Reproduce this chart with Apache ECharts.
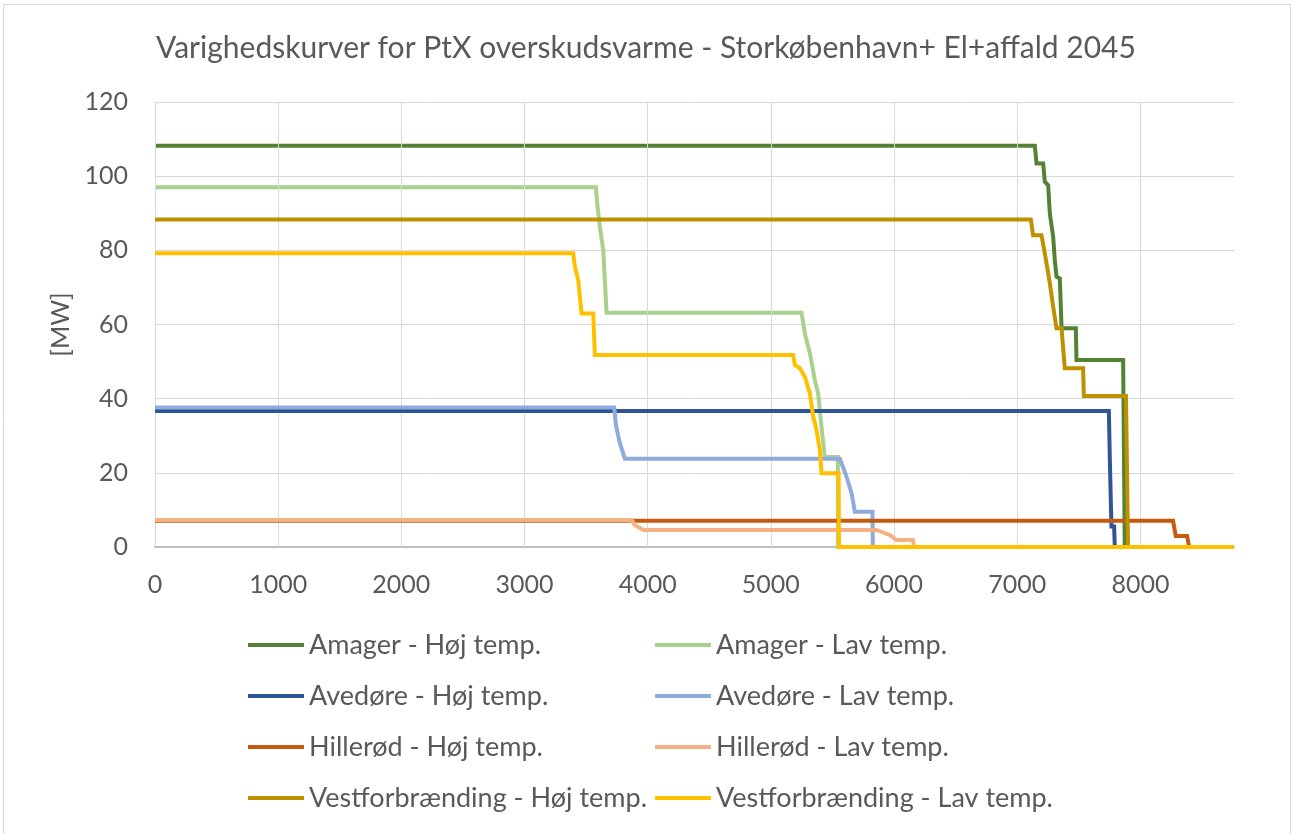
<!DOCTYPE html>
<html>
<head>
<meta charset="utf-8">
<script src="https://cdn.jsdelivr.net/npm/echarts@6/dist/echarts.min.js"></script>
<style>
  html, body { margin: 0; padding: 0; background: #fff; }
  #chart { width: 1292px; height: 834px; }
</style>
</head>
<body>
<div id="chart"></div>
<script>
// Duration curves: [hours, MW] breakpoints for each plant / temperature level
const amagerHoj = [[0,108.2],[7143,108.2],[7157,103.4],[7211,103.4],[7224,98.5],[7251,97.6],[7265,89.9],[7292,83.6],[7305,77.4],[7319,72.9],[7346,72.4],[7360,59.0],[7476,59.0],[7481,50.4],[7860,50.4],[7873,0],[8760,0]];
const amagerLav = [[0,97.0],[3580,97.0],[3590,92.6],[3612,86.3],[3639,80.1],[3666,63.2],[5249,63.2],[5276,57.6],[5317,52.2],[5357,45.0],[5384,41.4],[5411,32.4],[5438,24.3],[5543,24.3],[5546,0],[8760,0]];
const avedoreHoj = [[0,36.7],[7744,36.7],[7752,23.5],[7765,5.5],[7787,5.5],[7792,0],[8760,0]];
const avedoreLav = [[0,37.6],[3728,37.6],[3742,32.9],[3774,28.0],[3815,23.8],[5560,23.8],[5614,19.0],[5628,18.6],[5655,14.5],[5682,9.5],[5825,9.5],[5828,0],[8760,0]];
const hillerodHoj = [[0,7.1],[8265,7.1],[8287,3.0],[8379,3.0],[8396,0],[8760,0]];
const hillerodLav = [[0,7.3],[3869,7.3],[3896,5.9],[3964,4.6],[5857,4.6],[5966,3.2],[6020,1.9],[6155,1.9],[6160,0],[8760,0]];
const vestHoj = [[0,88.3],[7110,88.3],[7129,84.1],[7197,84.1],[7224,79.2],[7265,71.1],[7292,64.8],[7319,59.0],[7360,59.0],[7386,48.2],[7535,48.2],[7541,40.7],[7883,40.7],[7900,0],[8760,0]];
const vestLav = [[0,79.2],[3395,79.2],[3409,75.6],[3436,72.0],[3463,63.0],[3558,63.0],[3571,51.8],[5181,51.8],[5195,49.1],[5235,48.2],[5276,45.9],[5317,41.4],[5344,35.1],[5371,31.5],[5398,26.1],[5411,19.9],[5550,19.9],[5553,0],[8760,0]];

const seriesNames = [
  'Amager - Høj temp.', 'Amager - Lav temp.',
  'Avedøre - Høj temp.', 'Avedøre - Lav temp.',
  'Hillerød - Høj temp.', 'Hillerød - Lav temp.',
  'Vestforbrænding - Høj temp.', 'Vestforbrænding - Lav temp.'
];
const seriesData = [amagerHoj, amagerLav, avedoreHoj, avedoreLav, hillerodHoj, hillerodLav, vestHoj, vestLav];
const seriesColors = ['#548235', '#A9D18E', '#2F5597', '#8FAADC', '#C55A11', '#F4B183', '#BF9000', '#FFC000'];

const xTicks = [0, 1000, 2000, 3000, 4000, 5000, 6000, 7000, 8000];
const xMax = 8760;
const titleText = 'Varighedskurver for PtX overskudsvarme - Storkøbenhavn+ El+affald 2045';
const yName = '[MW]';

const FONT = 'Lato, "Open Sans", sans-serif';
const TXT = '#595959';

const chart = echarts.init(document.getElementById('chart'), null, { renderer: 'canvas' });

const lineSeries = seriesNames.map((name, i) => ({
  name: name,
  type: 'line',
  data: seriesData[i],
  showSymbol: false,
  symbol: 'none',
  z: 3 + i,
  lineStyle: { color: seriesColors[i], width: 4, cap: 'butt', join: 'miter' },
  itemStyle: { color: seriesColors[i] }
}));

// vertical gridlines at the labelled hour ticks
const gridSeries = {
  name: 'vgrid',
  type: 'line',
  data: [],
  z: 1,
  silent: true,
  markLine: {
    silent: true,
    symbol: 'none',
    animation: false,
    label: { show: false },
    lineStyle: { color: '#D9D9D9', width: 1, type: 'solid' },
    data: xTicks.map(v => ({ xAxis: v }))
  }
};

const legendBase = {
  orient: 'vertical',
  top: 631,
  padding: 0,
  icon: 'rect',
  itemWidth: 56,
  itemHeight: 4,
  itemGap: 23,
  selectedMode: false,
  textStyle: { fontFamily: FONT, fontSize: 27, lineHeight: 28, color: TXT }
};

chart.setOption({
  animation: false,
  backgroundColor: '#fff',
  title: {
    text: titleText,
    left: 'center',
    top: 28,
    textStyle: { fontFamily: FONT, fontSize: 30, fontWeight: 'normal', color: TXT }
  },
  legend: [
    Object.assign({}, legendBase, { left: 248, data: [seriesNames[0], seriesNames[2], seriesNames[4], seriesNames[6]] }),
    Object.assign({}, legendBase, { left: 655, data: [seriesNames[1], seriesNames[3], seriesNames[5], seriesNames[7]] })
  ],
  grid: { left: 155, right: 58, top: 102, bottom: 287, containLabel: false },
  xAxis: {
    type: 'value',
    min: 0,
    max: xMax,
    interval: 1000,
    axisLine: { show: true, lineStyle: { color: '#BFBFBF', width: 2 } },
    axisTick: { show: false },
    splitLine: { show: false },
    axisLabel: {
      margin: 25,
      fontFamily: FONT, fontSize: 25, color: TXT,
      formatter: v => (xTicks.indexOf(v) >= 0 ? String(v) : '')
    }
  },
  yAxis: {
    type: 'value',
    min: 0,
    max: 120,
    interval: 20,
    name: yName,
    nameLocation: 'middle',
    nameGap: 80,
    nameRotate: 90,
    nameTextStyle: { fontFamily: FONT, fontSize: 25, color: TXT },
    axisLine: { show: false },
    axisTick: { show: false },
    splitLine: { show: true, lineStyle: { color: '#D9D9D9', width: 1 } },
    axisLabel: { margin: 27, fontFamily: FONT, fontSize: 25, color: TXT }
  },
  graphic: [{
    type: 'rect',
    silent: true,
    shape: { x: 3.5, y: 4.5, width: 1287, height: 840 },
    style: { fill: 'none', stroke: '#D9D9D9', lineWidth: 1 }
  }],
  series: [gridSeries].concat(lineSeries)
});
</script>
</body>
</html>
